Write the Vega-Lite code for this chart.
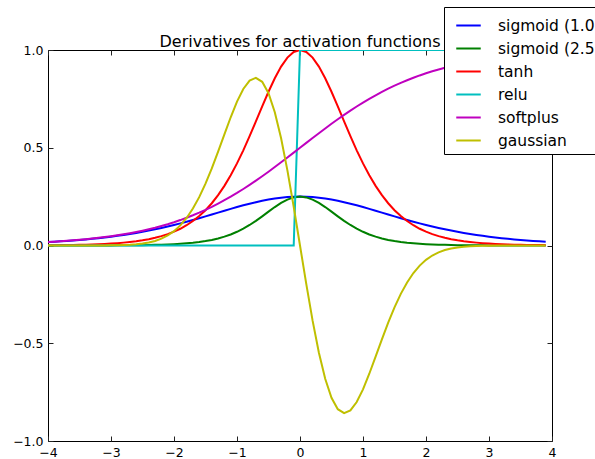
{
"$schema": "https://vega.github.io/schema/vega-lite/v6.json",
"autosize": "none",
"width": 504,
"height": 391,
"padding": {"left": 48, "top": 50, "right": 43, "bottom": 18},
"background": "white",
"config": {"view": {"stroke": "black", "strokeWidth": 1}, "font": "DejaVu Sans"},
"title": {"text": "Derivatives for activation functions", "frame": "group", "anchor": "middle", "baseline": "alphabetic", "font": "DejaVu Sans", "fontSize": 16, "fontWeight": "normal", "color": "black", "offset": -56},
"data": {"values": [
{"s":"s1","x":-4,"y":0.0177},{"s":"s1","x":-3.9,"y":0.0194},{"s":"s1","x":-3.8,"y":0.0214},{"s":"s1","x":-3.7,"y":0.0235},{"s":"s1","x":-3.6,"y":0.0259},{"s":"s1","x":-3.5,"y":0.0285},{"s":"s1","x":-3.4,"y":0.0313},{"s":"s1","x":-3.3,"y":0.0343},{"s":"s1","x":-3.2,"y":0.0376},{"s":"s1","x":-3.1,"y":0.0413},{"s":"s1","x":-3,"y":0.0452},{"s":"s1","x":-2.9,"y":0.0494},{"s":"s1","x":-2.8,"y":0.054},{"s":"s1","x":-2.7,"y":0.059},{"s":"s1","x":-2.6,"y":0.0644},{"s":"s1","x":-2.5,"y":0.0701},{"s":"s1","x":-2.4,"y":0.0763},{"s":"s1","x":-2.3,"y":0.0828},{"s":"s1","x":-2.2,"y":0.0898},{"s":"s1","x":-2.1,"y":0.0972},{"s":"s1","x":-2,"y":0.105},{"s":"s1","x":-1.9,"y":0.1132},{"s":"s1","x":-1.8,"y":0.1217},{"s":"s1","x":-1.7,"y":0.1306},{"s":"s1","x":-1.6,"y":0.1398},{"s":"s1","x":-1.5,"y":0.1491},{"s":"s1","x":-1.4,"y":0.1587},{"s":"s1","x":-1.3,"y":0.1683},{"s":"s1","x":-1.2,"y":0.1779},{"s":"s1","x":-1.1,"y":0.1874},{"s":"s1","x":-1,"y":0.1966},{"s":"s1","x":-0.9,"y":0.2055},{"s":"s1","x":-0.8,"y":0.2139},{"s":"s1","x":-0.7,"y":0.2217},{"s":"s1","x":-0.6,"y":0.2288},{"s":"s1","x":-0.5,"y":0.235},{"s":"s1","x":-0.4,"y":0.2403},{"s":"s1","x":-0.3,"y":0.2445},{"s":"s1","x":-0.2,"y":0.2475},{"s":"s1","x":-0.1,"y":0.2494},{"s":"s1","x":0,"y":0.25},{"s":"s1","x":0.1,"y":0.2494},{"s":"s1","x":0.2,"y":0.2475},{"s":"s1","x":0.3,"y":0.2445},{"s":"s1","x":0.4,"y":0.2403},{"s":"s1","x":0.5,"y":0.235},{"s":"s1","x":0.6,"y":0.2288},{"s":"s1","x":0.7,"y":0.2217},{"s":"s1","x":0.8,"y":0.2139},{"s":"s1","x":0.9,"y":0.2055},{"s":"s1","x":1,"y":0.1966},{"s":"s1","x":1.1,"y":0.1874},{"s":"s1","x":1.2,"y":0.1779},{"s":"s1","x":1.3,"y":0.1683},{"s":"s1","x":1.4,"y":0.1587},{"s":"s1","x":1.5,"y":0.1491},{"s":"s1","x":1.6,"y":0.1398},{"s":"s1","x":1.7,"y":0.1306},{"s":"s1","x":1.8,"y":0.1217},{"s":"s1","x":1.9,"y":0.1132},{"s":"s1","x":2,"y":0.105},{"s":"s1","x":2.1,"y":0.0972},{"s":"s1","x":2.2,"y":0.0898},{"s":"s1","x":2.3,"y":0.0828},{"s":"s1","x":2.4,"y":0.0763},{"s":"s1","x":2.5,"y":0.0701},{"s":"s1","x":2.6,"y":0.0644},{"s":"s1","x":2.7,"y":0.059},{"s":"s1","x":2.8,"y":0.054},{"s":"s1","x":2.9,"y":0.0494},{"s":"s1","x":3,"y":0.0452},{"s":"s1","x":3.1,"y":0.0413},{"s":"s1","x":3.2,"y":0.0376},{"s":"s1","x":3.3,"y":0.0343},{"s":"s1","x":3.4,"y":0.0313},{"s":"s1","x":3.5,"y":0.0285},{"s":"s1","x":3.6,"y":0.0259},{"s":"s1","x":3.7,"y":0.0235},{"s":"s1","x":3.8,"y":0.0214},{"s":"s1","x":3.9,"y":0.0194},
{"s":"s25","x":-4,"y":0},{"s":"s25","x":-3.9,"y":0.0001},{"s":"s25","x":-3.8,"y":0.0001},{"s":"s25","x":-3.7,"y":0.0001},{"s":"s25","x":-3.6,"y":0.0001},{"s":"s25","x":-3.5,"y":0.0002},{"s":"s25","x":-3.4,"y":0.0002},{"s":"s25","x":-3.3,"y":0.0003},{"s":"s25","x":-3.2,"y":0.0003},{"s":"s25","x":-3.1,"y":0.0004},{"s":"s25","x":-3,"y":0.0006},{"s":"s25","x":-2.9,"y":0.0007},{"s":"s25","x":-2.8,"y":0.0009},{"s":"s25","x":-2.7,"y":0.0012},{"s":"s25","x":-2.6,"y":0.0015},{"s":"s25","x":-2.5,"y":0.0019},{"s":"s25","x":-2.4,"y":0.0025},{"s":"s25","x":-2.3,"y":0.0032},{"s":"s25","x":-2.2,"y":0.0041},{"s":"s25","x":-2.1,"y":0.0052},{"s":"s25","x":-2,"y":0.0066},{"s":"s25","x":-1.9,"y":0.0085},{"s":"s25","x":-1.8,"y":0.0109},{"s":"s25","x":-1.7,"y":0.0139},{"s":"s25","x":-1.6,"y":0.0177},{"s":"s25","x":-1.5,"y":0.0225},{"s":"s25","x":-1.4,"y":0.0285},{"s":"s25","x":-1.3,"y":0.0359},{"s":"s25","x":-1.2,"y":0.0452},{"s":"s25","x":-1.1,"y":0.0565},{"s":"s25","x":-1,"y":0.0701},{"s":"s25","x":-0.9,"y":0.0863},{"s":"s25","x":-0.8,"y":0.105},{"s":"s25","x":-0.7,"y":0.1261},{"s":"s25","x":-0.6,"y":0.1491},{"s":"s25","x":-0.5,"y":0.1731},{"s":"s25","x":-0.4,"y":0.1966},{"s":"s25","x":-0.3,"y":0.2179},{"s":"s25","x":-0.2,"y":0.235},{"s":"s25","x":-0.1,"y":0.2461},{"s":"s25","x":0,"y":0.25},{"s":"s25","x":0.1,"y":0.2461},{"s":"s25","x":0.2,"y":0.235},{"s":"s25","x":0.3,"y":0.2179},{"s":"s25","x":0.4,"y":0.1966},{"s":"s25","x":0.5,"y":0.1731},{"s":"s25","x":0.6,"y":0.1491},{"s":"s25","x":0.7,"y":0.1261},{"s":"s25","x":0.8,"y":0.105},{"s":"s25","x":0.9,"y":0.0863},{"s":"s25","x":1,"y":0.0701},{"s":"s25","x":1.1,"y":0.0565},{"s":"s25","x":1.2,"y":0.0452},{"s":"s25","x":1.3,"y":0.0359},{"s":"s25","x":1.4,"y":0.0285},{"s":"s25","x":1.5,"y":0.0225},{"s":"s25","x":1.6,"y":0.0177},{"s":"s25","x":1.7,"y":0.0139},{"s":"s25","x":1.8,"y":0.0109},{"s":"s25","x":1.9,"y":0.0085},{"s":"s25","x":2,"y":0.0066},{"s":"s25","x":2.1,"y":0.0052},{"s":"s25","x":2.2,"y":0.0041},{"s":"s25","x":2.3,"y":0.0032},{"s":"s25","x":2.4,"y":0.0025},{"s":"s25","x":2.5,"y":0.0019},{"s":"s25","x":2.6,"y":0.0015},{"s":"s25","x":2.7,"y":0.0012},{"s":"s25","x":2.8,"y":0.0009},{"s":"s25","x":2.9,"y":0.0007},{"s":"s25","x":3,"y":0.0006},{"s":"s25","x":3.1,"y":0.0004},{"s":"s25","x":3.2,"y":0.0003},{"s":"s25","x":3.3,"y":0.0003},{"s":"s25","x":3.4,"y":0.0002},{"s":"s25","x":3.5,"y":0.0002},{"s":"s25","x":3.6,"y":0.0001},{"s":"s25","x":3.7,"y":0.0001},{"s":"s25","x":3.8,"y":0.0001},{"s":"s25","x":3.9,"y":0.0001},
{"s":"tanh","x":-4,"y":0.0013},{"s":"tanh","x":-3.9,"y":0.0016},{"s":"tanh","x":-3.8,"y":0.002},{"s":"tanh","x":-3.7,"y":0.0024},{"s":"tanh","x":-3.6,"y":0.003},{"s":"tanh","x":-3.5,"y":0.0036},{"s":"tanh","x":-3.4,"y":0.0044},{"s":"tanh","x":-3.3,"y":0.0054},{"s":"tanh","x":-3.2,"y":0.0066},{"s":"tanh","x":-3.1,"y":0.0081},{"s":"tanh","x":-3,"y":0.0099},{"s":"tanh","x":-2.9,"y":0.012},{"s":"tanh","x":-2.8,"y":0.0147},{"s":"tanh","x":-2.7,"y":0.0179},{"s":"tanh","x":-2.6,"y":0.0218},{"s":"tanh","x":-2.5,"y":0.0266},{"s":"tanh","x":-2.4,"y":0.0324},{"s":"tanh","x":-2.3,"y":0.0394},{"s":"tanh","x":-2.2,"y":0.0479},{"s":"tanh","x":-2.1,"y":0.0582},{"s":"tanh","x":-2,"y":0.0707},{"s":"tanh","x":-1.9,"y":0.0856},{"s":"tanh","x":-1.8,"y":0.1036},{"s":"tanh","x":-1.7,"y":0.125},{"s":"tanh","x":-1.6,"y":0.1505},{"s":"tanh","x":-1.5,"y":0.1807},{"s":"tanh","x":-1.4,"y":0.2162},{"s":"tanh","x":-1.3,"y":0.2574},{"s":"tanh","x":-1.2,"y":0.305},{"s":"tanh","x":-1.1,"y":0.3592},{"s":"tanh","x":-1,"y":0.42},{"s":"tanh","x":-0.9,"y":0.4869},{"s":"tanh","x":-0.8,"y":0.5591},{"s":"tanh","x":-0.7,"y":0.6347},{"s":"tanh","x":-0.6,"y":0.7116},{"s":"tanh","x":-0.5,"y":0.7864},{"s":"tanh","x":-0.4,"y":0.8556},{"s":"tanh","x":-0.3,"y":0.9151},{"s":"tanh","x":-0.2,"y":0.961},{"s":"tanh","x":-0.1,"y":0.9901},{"s":"tanh","x":0,"y":1},{"s":"tanh","x":0.1,"y":0.9901},{"s":"tanh","x":0.2,"y":0.961},{"s":"tanh","x":0.3,"y":0.9151},{"s":"tanh","x":0.4,"y":0.8556},{"s":"tanh","x":0.5,"y":0.7864},{"s":"tanh","x":0.6,"y":0.7116},{"s":"tanh","x":0.7,"y":0.6347},{"s":"tanh","x":0.8,"y":0.5591},{"s":"tanh","x":0.9,"y":0.4869},{"s":"tanh","x":1,"y":0.42},{"s":"tanh","x":1.1,"y":0.3592},{"s":"tanh","x":1.2,"y":0.305},{"s":"tanh","x":1.3,"y":0.2574},{"s":"tanh","x":1.4,"y":0.2162},{"s":"tanh","x":1.5,"y":0.1807},{"s":"tanh","x":1.6,"y":0.1505},{"s":"tanh","x":1.7,"y":0.125},{"s":"tanh","x":1.8,"y":0.1036},{"s":"tanh","x":1.9,"y":0.0856},{"s":"tanh","x":2,"y":0.0707},{"s":"tanh","x":2.1,"y":0.0582},{"s":"tanh","x":2.2,"y":0.0479},{"s":"tanh","x":2.3,"y":0.0394},{"s":"tanh","x":2.4,"y":0.0324},{"s":"tanh","x":2.5,"y":0.0266},{"s":"tanh","x":2.6,"y":0.0218},{"s":"tanh","x":2.7,"y":0.0179},{"s":"tanh","x":2.8,"y":0.0147},{"s":"tanh","x":2.9,"y":0.012},{"s":"tanh","x":3,"y":0.0099},{"s":"tanh","x":3.1,"y":0.0081},{"s":"tanh","x":3.2,"y":0.0066},{"s":"tanh","x":3.3,"y":0.0054},{"s":"tanh","x":3.4,"y":0.0044},{"s":"tanh","x":3.5,"y":0.0036},{"s":"tanh","x":3.6,"y":0.003},{"s":"tanh","x":3.7,"y":0.0024},{"s":"tanh","x":3.8,"y":0.002},{"s":"tanh","x":3.9,"y":0.0016},
{"s":"relu","x":-4,"y":0},{"s":"relu","x":-0.1,"y":0},{"s":"relu","x":0,"y":1},{"s":"relu","x":3.9,"y":1},
{"s":"softplus","x":-4,"y":0.018},{"s":"softplus","x":-3.9,"y":0.0198},{"s":"softplus","x":-3.8,"y":0.0219},{"s":"softplus","x":-3.7,"y":0.0241},{"s":"softplus","x":-3.6,"y":0.0266},{"s":"softplus","x":-3.5,"y":0.0293},{"s":"softplus","x":-3.4,"y":0.0323},{"s":"softplus","x":-3.3,"y":0.0356},{"s":"softplus","x":-3.2,"y":0.0392},{"s":"softplus","x":-3.1,"y":0.0431},{"s":"softplus","x":-3,"y":0.0474},{"s":"softplus","x":-2.9,"y":0.0522},{"s":"softplus","x":-2.8,"y":0.0573},{"s":"softplus","x":-2.7,"y":0.063},{"s":"softplus","x":-2.6,"y":0.0691},{"s":"softplus","x":-2.5,"y":0.0759},{"s":"softplus","x":-2.4,"y":0.0832},{"s":"softplus","x":-2.3,"y":0.0911},{"s":"softplus","x":-2.2,"y":0.0998},{"s":"softplus","x":-2.1,"y":0.1091},{"s":"softplus","x":-2,"y":0.1192},{"s":"softplus","x":-1.9,"y":0.1301},{"s":"softplus","x":-1.8,"y":0.1419},{"s":"softplus","x":-1.7,"y":0.1545},{"s":"softplus","x":-1.6,"y":0.168},{"s":"softplus","x":-1.5,"y":0.1824},{"s":"softplus","x":-1.4,"y":0.1978},{"s":"softplus","x":-1.3,"y":0.2142},{"s":"softplus","x":-1.2,"y":0.2315},{"s":"softplus","x":-1.1,"y":0.2497},{"s":"softplus","x":-1,"y":0.2689},{"s":"softplus","x":-0.9,"y":0.2891},{"s":"softplus","x":-0.8,"y":0.31},{"s":"softplus","x":-0.7,"y":0.3318},{"s":"softplus","x":-0.6,"y":0.3543},{"s":"softplus","x":-0.5,"y":0.3775},{"s":"softplus","x":-0.4,"y":0.4013},{"s":"softplus","x":-0.3,"y":0.4256},{"s":"softplus","x":-0.2,"y":0.4502},{"s":"softplus","x":-0.1,"y":0.475},{"s":"softplus","x":0,"y":0.5},{"s":"softplus","x":0.1,"y":0.525},{"s":"softplus","x":0.2,"y":0.5498},{"s":"softplus","x":0.3,"y":0.5744},{"s":"softplus","x":0.4,"y":0.5987},{"s":"softplus","x":0.5,"y":0.6225},{"s":"softplus","x":0.6,"y":0.6457},{"s":"softplus","x":0.7,"y":0.6682},{"s":"softplus","x":0.8,"y":0.69},{"s":"softplus","x":0.9,"y":0.7109},{"s":"softplus","x":1,"y":0.7311},{"s":"softplus","x":1.1,"y":0.7503},{"s":"softplus","x":1.2,"y":0.7685},{"s":"softplus","x":1.3,"y":0.7858},{"s":"softplus","x":1.4,"y":0.8022},{"s":"softplus","x":1.5,"y":0.8176},{"s":"softplus","x":1.6,"y":0.832},{"s":"softplus","x":1.7,"y":0.8455},{"s":"softplus","x":1.8,"y":0.8581},{"s":"softplus","x":1.9,"y":0.8699},{"s":"softplus","x":2,"y":0.8808},{"s":"softplus","x":2.1,"y":0.8909},{"s":"softplus","x":2.2,"y":0.9002},{"s":"softplus","x":2.3,"y":0.9089},{"s":"softplus","x":2.4,"y":0.9168},{"s":"softplus","x":2.5,"y":0.9241},{"s":"softplus","x":2.6,"y":0.9309},{"s":"softplus","x":2.7,"y":0.937},{"s":"softplus","x":2.8,"y":0.9427},{"s":"softplus","x":2.9,"y":0.9478},{"s":"softplus","x":3,"y":0.9526},{"s":"softplus","x":3.1,"y":0.9569},{"s":"softplus","x":3.2,"y":0.9608},{"s":"softplus","x":3.3,"y":0.9644},{"s":"softplus","x":3.4,"y":0.9677},{"s":"softplus","x":3.5,"y":0.9707},{"s":"softplus","x":3.6,"y":0.9734},{"s":"softplus","x":3.7,"y":0.9759},{"s":"softplus","x":3.8,"y":0.9781},{"s":"softplus","x":3.9,"y":0.9802},
{"s":"gaussian","x":-4,"y":0},{"s":"gaussian","x":-3.9,"y":0},{"s":"gaussian","x":-3.8,"y":0},{"s":"gaussian","x":-3.7,"y":0},{"s":"gaussian","x":-3.6,"y":0},{"s":"gaussian","x":-3.5,"y":0},{"s":"gaussian","x":-3.4,"y":0},{"s":"gaussian","x":-3.3,"y":0.0001},{"s":"gaussian","x":-3.2,"y":0.0002},{"s":"gaussian","x":-3.1,"y":0.0004},{"s":"gaussian","x":-3,"y":0.0007},{"s":"gaussian","x":-2.9,"y":0.0013},{"s":"gaussian","x":-2.8,"y":0.0022},{"s":"gaussian","x":-2.7,"y":0.0037},{"s":"gaussian","x":-2.6,"y":0.006},{"s":"gaussian","x":-2.5,"y":0.0097},{"s":"gaussian","x":-2.4,"y":0.0151},{"s":"gaussian","x":-2.3,"y":0.0232},{"s":"gaussian","x":-2.2,"y":0.0348},{"s":"gaussian","x":-2.1,"y":0.0511},{"s":"gaussian","x":-2,"y":0.0733},{"s":"gaussian","x":-1.9,"y":0.1028},{"s":"gaussian","x":-1.8,"y":0.141},{"s":"gaussian","x":-1.7,"y":0.189},{"s":"gaussian","x":-1.6,"y":0.2474},{"s":"gaussian","x":-1.5,"y":0.3162},{"s":"gaussian","x":-1.4,"y":0.3944},{"s":"gaussian","x":-1.3,"y":0.4798},{"s":"gaussian","x":-1.2,"y":0.5686},{"s":"gaussian","x":-1.1,"y":0.656},{"s":"gaussian","x":-1,"y":0.7358},{"s":"gaussian","x":-0.9,"y":0.8007},{"s":"gaussian","x":-0.8,"y":0.8437},{"s":"gaussian","x":-0.7,"y":0.8577},{"s":"gaussian","x":-0.6,"y":0.8372},{"s":"gaussian","x":-0.5,"y":0.7788},{"s":"gaussian","x":-0.4,"y":0.6817},{"s":"gaussian","x":-0.3,"y":0.5484},{"s":"gaussian","x":-0.2,"y":0.3843},{"s":"gaussian","x":-0.1,"y":0.198},{"s":"gaussian","x":0,"y":0},{"s":"gaussian","x":0.1,"y":-0.198},{"s":"gaussian","x":0.2,"y":-0.3843},{"s":"gaussian","x":0.3,"y":-0.5484},{"s":"gaussian","x":0.4,"y":-0.6817},{"s":"gaussian","x":0.5,"y":-0.7788},{"s":"gaussian","x":0.6,"y":-0.8372},{"s":"gaussian","x":0.7,"y":-0.8577},{"s":"gaussian","x":0.8,"y":-0.8437},{"s":"gaussian","x":0.9,"y":-0.8007},{"s":"gaussian","x":1,"y":-0.7358},{"s":"gaussian","x":1.1,"y":-0.656},{"s":"gaussian","x":1.2,"y":-0.5686},{"s":"gaussian","x":1.3,"y":-0.4798},{"s":"gaussian","x":1.4,"y":-0.3944},{"s":"gaussian","x":1.5,"y":-0.3162},{"s":"gaussian","x":1.6,"y":-0.2474},{"s":"gaussian","x":1.7,"y":-0.189},{"s":"gaussian","x":1.8,"y":-0.141},{"s":"gaussian","x":1.9,"y":-0.1028},{"s":"gaussian","x":2,"y":-0.0733},{"s":"gaussian","x":2.1,"y":-0.0511},{"s":"gaussian","x":2.2,"y":-0.0348},{"s":"gaussian","x":2.3,"y":-0.0232},{"s":"gaussian","x":2.4,"y":-0.0151},{"s":"gaussian","x":2.5,"y":-0.0097},{"s":"gaussian","x":2.6,"y":-0.006},{"s":"gaussian","x":2.7,"y":-0.0037},{"s":"gaussian","x":2.8,"y":-0.0022},{"s":"gaussian","x":2.9,"y":-0.0013},{"s":"gaussian","x":3,"y":-0.0007},{"s":"gaussian","x":3.1,"y":-0.0004},{"s":"gaussian","x":3.2,"y":-0.0002},{"s":"gaussian","x":3.3,"y":-0.0001},{"s":"gaussian","x":3.4,"y":0},{"s":"gaussian","x":3.5,"y":0},{"s":"gaussian","x":3.6,"y":0},{"s":"gaussian","x":3.7,"y":0},{"s":"gaussian","x":3.8,"y":0},{"s":"gaussian","x":3.9,"y":0}
]},
"layer": [
{
"mark": {"type": "line", "strokeWidth": 2, "clip": true},
"encoding": {
"x": {"field": "x", "type": "quantitative", "scale": {"domain": [-4, 4], "nice": false, "zero": false},
"axis": {"orient": "bottom", "values": [-4,-3,-2,-1,0,1,2,3,4], "format": "d", "labelExpr": "replace(datum.label, '-', '−')", "title": null, "grid": false, "domain": false, "tickSize": -5, "tickColor": "#222222", "labelFont": "DejaVu Sans", "labelFontSize": 12.5, "labelColor": "black", "labelPadding": 10, "labelFlush": false, "labelOverlap": false}},
"y": {"field": "y", "type": "quantitative", "scale": {"domain": [-1, 1], "nice": false, "zero": false},
"axis": {"orient": "left", "values": [-1,-0.5,0,0.5,1], "format": ".1f", "labelExpr": "replace(datum.label, '-', '−')", "title": null, "grid": false, "domain": false, "tickSize": -5, "tickColor": "#222222", "labelFont": "DejaVu Sans", "labelFontSize": 12.5, "labelColor": "black", "labelPadding": 10, "labelFlush": false, "labelOverlap": false}},
"color": {"field": "s", "type": "nominal",
"scale": {"domain": ["s1","s25","tanh","relu","softplus","gaussian"], "range": ["#0000ff","#008000","#ff0000","#00bfbf","#bf00bf","#bfbf00"]},
"legend": {"orient": "none", "legendX": 396, "legendY": -43, "title": null, "symbolType": "stroke", "symbolSize": 600, "symbolStrokeWidth": 2, "labelFont": "DejaVu Sans", "labelFontSize": 15.5, "labelColor": "black", "strokeColor": "black", "fillColor": "white", "padding": 5, "rowPadding": 1, "symbolOffset": 6, "labelOffset": 16, "labelLimit": 300,
"labelExpr": "datum.value == 's1' ? 'sigmoid (1.0)' : datum.value == 's25' ? 'sigmoid (2.5)' : datum.label"}}
}
},
{
"mark": {"type": "point", "opacity": 0},
"encoding": {
"x": {"field": "x", "type": "quantitative", "axis": {"orient": "top", "values": [-4,-3,-2,-1,0,1,2,3,4], "labels": false, "title": null, "grid": false, "domain": false, "tickSize": -5, "tickColor": "#222222"}},
"y": {"field": "y", "type": "quantitative", "axis": {"orient": "right", "values": [-1,-0.5,0,0.5,1], "labels": false, "title": null, "grid": false, "domain": false, "tickSize": -5, "tickColor": "#222222"}}
}
}
],
"resolve": {"axis": {"x": "independent", "y": "independent"}}
}
